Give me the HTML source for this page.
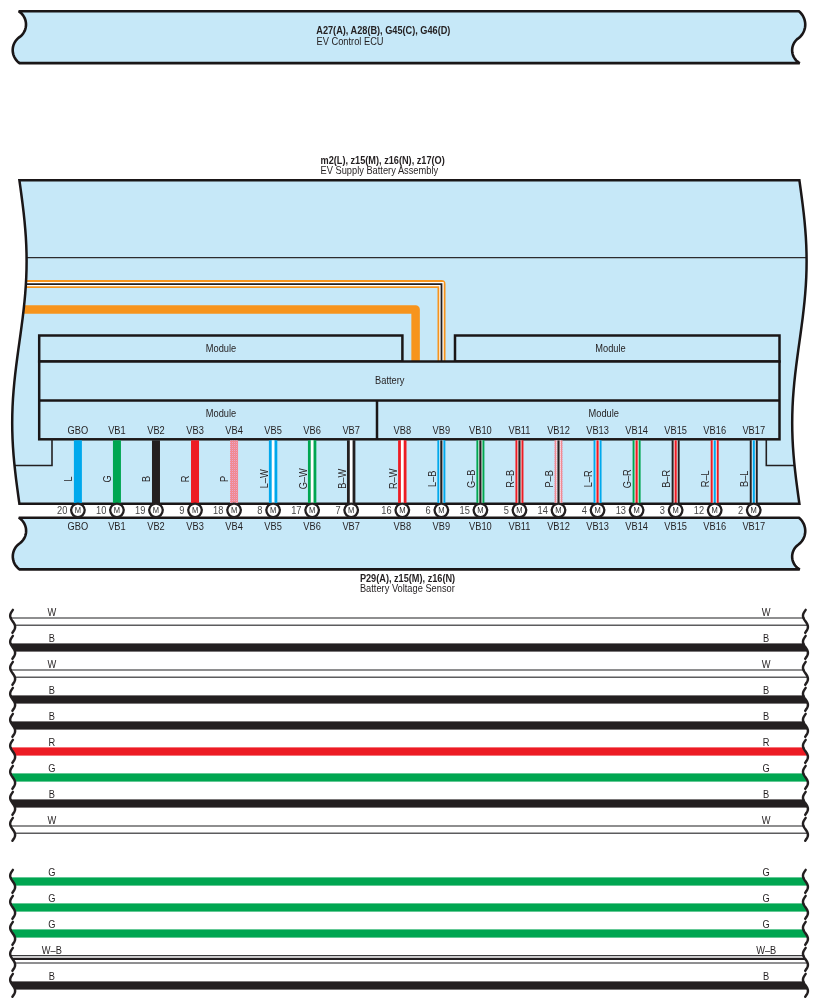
<!DOCTYPE html>
<html><head><meta charset="utf-8"><style>html,body{margin:0;padding:0;background:#fff;width:818px;height:1008px;overflow:hidden}</style></head>
<body>
<svg width="818" height="1008" viewBox="0 0 818 1008" style="display:block;will-change:transform">
<defs><pattern id="pk" width="2" height="2" patternUnits="userSpaceOnUse"><rect width="2" height="2" fill="#F2878D"/><rect width="1" height="1" fill="#E9A4CC"/><rect x="1" y="1" width="1" height="1" fill="#F08E98"/></pattern></defs>
<rect width="818" height="1008" fill="#FFFFFF"/>
<path d="M18.70,11.30 L798.90,11.30 L800.05,12.31 L801.10,13.43 L802.04,14.63 L802.88,15.91 L803.59,17.26 L804.19,18.67 L804.65,20.13 L804.99,21.62 L805.19,23.13 L805.25,24.66 L805.18,26.19 L804.97,27.71 L804.62,29.20 L804.14,30.65 L803.54,32.05 L802.81,33.40 L801.97,34.67 L801.01,35.87 L799.95,36.97 L798.80,37.98 L797.58,38.87 L796.46,39.87 L795.45,40.99 L794.55,42.21 L793.79,43.51 L793.17,44.88 L792.69,46.31 L792.36,47.79 L792.18,49.28 L792.15,50.79 L792.29,52.30 L792.57,53.78 L793.01,55.22 L793.59,56.61 L794.31,57.94 L795.16,59.18 L796.14,60.33 L797.23,61.38 L798.42,62.30 L799.70,63.10 L19.50,63.10 L18.26,62.15 L17.13,61.08 L16.10,59.90 L15.19,58.63 L14.42,57.27 L13.78,55.84 L13.29,54.36 L12.94,52.84 L12.74,51.29 L12.70,49.73 L12.81,48.17 L13.08,46.63 L13.49,45.13 L14.06,43.67 L14.76,42.27 L15.60,40.96 L16.56,39.73 L17.64,38.60 L18.82,37.58 L20.10,36.68 L21.22,35.71 L22.25,34.63 L23.16,33.45 L23.96,32.20 L24.64,30.87 L25.18,29.49 L25.60,28.06 L25.87,26.60 L26.00,25.12 L25.99,23.63 L25.84,22.15 L25.54,20.69 L25.11,19.27 L24.55,17.89 L23.85,16.57 L23.03,15.33 L22.10,14.17 L21.06,13.11 L19.92,12.15 L18.70,11.30 Z" fill="#C6E8F8" stroke="#1a1617" stroke-width="2.6" stroke-linejoin="miter" stroke-miterlimit="1.6"/>
<text font-family="Liberation Sans, sans-serif" font-size="10.2" font-weight="bold" text-anchor="start" fill="#231F20" transform="translate(316.30,34.30) scale(0.9,1)">A27(A), A28(B), G45(C), G46(D)</text>
<text font-family="Liberation Sans, sans-serif" font-size="10.2" font-weight="normal" text-anchor="start" fill="#231F20" transform="translate(316.50,44.50) scale(0.91,1)">EV Control ECU</text>
<text font-family="Liberation Sans, sans-serif" font-size="10.2" font-weight="bold" text-anchor="start" fill="#231F20" transform="translate(320.50,164.00) scale(0.9,1)">m2(L), z15(M), z16(N), z17(O)</text>
<text font-family="Liberation Sans, sans-serif" font-size="10.2" font-weight="normal" text-anchor="start" fill="#231F20" transform="translate(320.50,174.30) scale(0.91,1)">EV Supply Battery Assembly</text>
<clipPath id="bigclip"><path d="M19.40,180.30 L799.40,180.30 L800.53,188.39 L801.62,196.48 L802.67,204.56 L803.63,212.65 L804.49,220.74 L805.22,228.83 L805.82,236.91 L806.25,245.00 L806.51,253.09 L806.60,261.18 L806.51,269.26 L806.25,277.35 L805.82,285.44 L805.22,293.52 L804.49,301.61 L803.63,309.70 L802.67,317.79 L801.62,325.88 L800.53,333.96 L799.40,342.05 L798.27,350.14 L797.18,358.23 L796.13,366.31 L795.17,374.40 L794.31,382.49 L793.58,390.58 L792.98,398.66 L792.55,406.75 L792.29,414.84 L792.20,422.93 L792.29,431.01 L792.55,439.10 L792.98,447.19 L793.58,455.27 L794.31,463.36 L795.17,471.45 L796.13,479.54 L797.18,487.62 L798.27,495.71 L799.40,503.80 L19.40,503.80 L18.27,495.71 L17.18,487.62 L16.13,479.54 L15.17,471.45 L14.31,463.36 L13.58,455.27 L12.98,447.19 L12.55,439.10 L12.29,431.01 L12.20,422.93 L12.29,414.84 L12.55,406.75 L12.98,398.66 L13.58,390.58 L14.31,382.49 L15.17,374.40 L16.13,366.31 L17.18,358.23 L18.27,350.14 L19.40,342.05 L20.53,333.96 L21.62,325.88 L22.67,317.79 L23.63,309.70 L24.49,301.61 L25.22,293.52 L25.82,285.44 L26.25,277.35 L26.51,269.26 L26.60,261.18 L26.51,253.09 L26.25,245.00 L25.82,236.91 L25.22,228.83 L24.49,220.74 L23.63,212.65 L22.67,204.56 L21.62,196.48 L20.53,188.39 L19.40,180.30 Z"/></clipPath>
<path d="M19.40,180.30 L799.40,180.30 L800.53,188.39 L801.62,196.48 L802.67,204.56 L803.63,212.65 L804.49,220.74 L805.22,228.83 L805.82,236.91 L806.25,245.00 L806.51,253.09 L806.60,261.18 L806.51,269.26 L806.25,277.35 L805.82,285.44 L805.22,293.52 L804.49,301.61 L803.63,309.70 L802.67,317.79 L801.62,325.88 L800.53,333.96 L799.40,342.05 L798.27,350.14 L797.18,358.23 L796.13,366.31 L795.17,374.40 L794.31,382.49 L793.58,390.58 L792.98,398.66 L792.55,406.75 L792.29,414.84 L792.20,422.93 L792.29,431.01 L792.55,439.10 L792.98,447.19 L793.58,455.27 L794.31,463.36 L795.17,471.45 L796.13,479.54 L797.18,487.62 L798.27,495.71 L799.40,503.80 L19.40,503.80 L18.27,495.71 L17.18,487.62 L16.13,479.54 L15.17,471.45 L14.31,463.36 L13.58,455.27 L12.98,447.19 L12.55,439.10 L12.29,431.01 L12.20,422.93 L12.29,414.84 L12.55,406.75 L12.98,398.66 L13.58,390.58 L14.31,382.49 L15.17,374.40 L16.13,366.31 L17.18,358.23 L18.27,350.14 L19.40,342.05 L20.53,333.96 L21.62,325.88 L22.67,317.79 L23.63,309.70 L24.49,301.61 L25.22,293.52 L25.82,285.44 L26.25,277.35 L26.51,269.26 L26.60,261.18 L26.51,253.09 L26.25,245.00 L25.82,236.91 L25.22,228.83 L24.49,220.74 L23.63,212.65 L22.67,204.56 L21.62,196.48 L20.53,188.39 L19.40,180.30 Z" fill="#C6E8F8"/>
<g clip-path="url(#bigclip)">
<line x1="5" y1="257.6" x2="815" y2="257.6" stroke="#2b2b2e" stroke-width="1.4"/>
<path d="M5,284.1 L441.5,284.1 L441.5,361" fill="none" stroke="#F7941D" stroke-width="8" stroke-linejoin="round"/>
<path d="M5,284.1 L441.5,284.1 L441.5,361" fill="none" stroke="#FFFFFF" stroke-width="4.4" stroke-linejoin="miter"/>
<path d="M5,284.1 L441.5,284.1 L441.5,361" fill="none" stroke="#231F20" stroke-width="1.8" stroke-linejoin="miter"/>
<path d="M5,309.6 L415.6,309.6 L415.6,361" fill="none" stroke="#F7941D" stroke-width="8.5" stroke-linejoin="round"/>
<rect x="39.2" y="335.5" width="363.2" height="26" fill="#C6E8F8" stroke="#1a1617" stroke-width="2.5"/>
<rect x="455" y="335.5" width="324.5" height="26" fill="#C6E8F8" stroke="#1a1617" stroke-width="2.5"/>
<rect x="39.2" y="361.5" width="740.3" height="77.8" fill="#C6E8F8" stroke="#1a1617" stroke-width="2.5"/>
<line x1="39.2" y1="400.5" x2="779.5" y2="400.5" stroke="#1a1617" stroke-width="2.5"/>
<line x1="377" y1="400.5" x2="377" y2="439.3" stroke="#1a1617" stroke-width="2.5"/>
<path d="M52,439.3 L52,465.5 L5,465.5" fill="none" stroke="#231F20" stroke-width="1.6"/>
<path d="M766.3,439.3 L766.3,465.5 L815,465.5" fill="none" stroke="#231F20" stroke-width="1.6"/>
<text font-family="Liberation Sans, sans-serif" font-size="10.2" font-weight="normal" text-anchor="middle" fill="#231F20" transform="translate(221.00,352.30) scale(0.91,1)">Module</text>
<text font-family="Liberation Sans, sans-serif" font-size="10.2" font-weight="normal" text-anchor="middle" fill="#231F20" transform="translate(610.50,352.10) scale(0.91,1)">Module</text>
<text font-family="Liberation Sans, sans-serif" font-size="10.2" font-weight="normal" text-anchor="middle" fill="#231F20" transform="translate(389.80,384.20) scale(0.91,1)">Battery</text>
<text font-family="Liberation Sans, sans-serif" font-size="10.2" font-weight="normal" text-anchor="middle" fill="#231F20" transform="translate(221.00,416.80) scale(0.91,1)">Module</text>
<text font-family="Liberation Sans, sans-serif" font-size="10.2" font-weight="normal" text-anchor="middle" fill="#231F20" transform="translate(603.70,416.80) scale(0.91,1)">Module</text>
</g>
<path d="M19.40,180.30 L799.40,180.30 L800.53,188.39 L801.62,196.48 L802.67,204.56 L803.63,212.65 L804.49,220.74 L805.22,228.83 L805.82,236.91 L806.25,245.00 L806.51,253.09 L806.60,261.18 L806.51,269.26 L806.25,277.35 L805.82,285.44 L805.22,293.52 L804.49,301.61 L803.63,309.70 L802.67,317.79 L801.62,325.88 L800.53,333.96 L799.40,342.05 L798.27,350.14 L797.18,358.23 L796.13,366.31 L795.17,374.40 L794.31,382.49 L793.58,390.58 L792.98,398.66 L792.55,406.75 L792.29,414.84 L792.20,422.93 L792.29,431.01 L792.55,439.10 L792.98,447.19 L793.58,455.27 L794.31,463.36 L795.17,471.45 L796.13,479.54 L797.18,487.62 L798.27,495.71 L799.40,503.80 L19.40,503.80 L18.27,495.71 L17.18,487.62 L16.13,479.54 L15.17,471.45 L14.31,463.36 L13.58,455.27 L12.98,447.19 L12.55,439.10 L12.29,431.01 L12.20,422.93 L12.29,414.84 L12.55,406.75 L12.98,398.66 L13.58,390.58 L14.31,382.49 L15.17,374.40 L16.13,366.31 L17.18,358.23 L18.27,350.14 L19.40,342.05 L20.53,333.96 L21.62,325.88 L22.67,317.79 L23.63,309.70 L24.49,301.61 L25.22,293.52 L25.82,285.44 L26.25,277.35 L26.51,269.26 L26.60,261.18 L26.51,253.09 L26.25,245.00 L25.82,236.91 L25.22,228.83 L24.49,220.74 L23.63,212.65 L22.67,204.56 L21.62,196.48 L20.53,188.39 L19.40,180.30 Z" fill="none" stroke="#1a1617" stroke-width="2.5"/>
<rect x="73.90" y="440.3" width="8" height="62.69999999999999" fill="#00A8EC"/>
<text font-family="Liberation Sans, sans-serif" font-size="10.2" font-weight="normal" text-anchor="middle" fill="#231F20" transform="translate(72.30,478.80) rotate(-90) scale(0.91,1)">L</text>
<rect x="112.94" y="440.3" width="8" height="62.69999999999999" fill="#00A651"/>
<text font-family="Liberation Sans, sans-serif" font-size="10.2" font-weight="normal" text-anchor="middle" fill="#231F20" transform="translate(111.34,478.80) rotate(-90) scale(0.91,1)">G</text>
<rect x="151.98" y="440.3" width="8" height="62.69999999999999" fill="#231F20"/>
<text font-family="Liberation Sans, sans-serif" font-size="10.2" font-weight="normal" text-anchor="middle" fill="#231F20" transform="translate(150.38,478.80) rotate(-90) scale(0.91,1)">B</text>
<rect x="191.02" y="440.3" width="8" height="62.69999999999999" fill="#ED1C24"/>
<text font-family="Liberation Sans, sans-serif" font-size="10.2" font-weight="normal" text-anchor="middle" fill="#231F20" transform="translate(189.42,478.80) rotate(-90) scale(0.91,1)">R</text>
<rect x="230.06" y="440.3" width="8" height="62.69999999999999" fill="url(#pk)"/>
<text font-family="Liberation Sans, sans-serif" font-size="10.2" font-weight="normal" text-anchor="middle" fill="#231F20" transform="translate(228.46,478.80) rotate(-90) scale(0.91,1)">P</text>
<rect x="268.90" y="440.3" width="8.4" height="62.69999999999999" fill="#00A8EC"/>
<rect x="271.70" y="440.3" width="2.8" height="62.69999999999999" fill="#FFFFFF"/>
<text font-family="Liberation Sans, sans-serif" font-size="10.2" font-weight="normal" text-anchor="middle" fill="#231F20" transform="translate(267.50,478.80) rotate(-90) scale(0.91,1)">L–W</text>
<rect x="307.94" y="440.3" width="8.4" height="62.69999999999999" fill="#00A651"/>
<rect x="310.74" y="440.3" width="2.8" height="62.69999999999999" fill="#FFFFFF"/>
<text font-family="Liberation Sans, sans-serif" font-size="10.2" font-weight="normal" text-anchor="middle" fill="#231F20" transform="translate(306.54,478.80) rotate(-90) scale(0.91,1)">G–W</text>
<rect x="346.98" y="440.3" width="8.4" height="62.69999999999999" fill="#231F20"/>
<rect x="349.78" y="440.3" width="2.8" height="62.69999999999999" fill="#FFFFFF"/>
<text font-family="Liberation Sans, sans-serif" font-size="10.2" font-weight="normal" text-anchor="middle" fill="#231F20" transform="translate(345.58,478.80) rotate(-90) scale(0.91,1)">B–W</text>
<rect x="398.10" y="440.3" width="8.4" height="62.69999999999999" fill="#ED1C24"/>
<rect x="400.90" y="440.3" width="2.8" height="62.69999999999999" fill="#FFFFFF"/>
<text font-family="Liberation Sans, sans-serif" font-size="10.2" font-weight="normal" text-anchor="middle" fill="#231F20" transform="translate(396.70,478.80) rotate(-90) scale(0.91,1)">R–W</text>
<rect x="437.35" y="440.3" width="8" height="62.69999999999999" fill="#00A8EC"/>
<rect x="439.35" y="440.3" width="4" height="62.69999999999999" fill="#FFFFFF"/>
<rect x="440.25" y="440.3" width="2.2" height="62.69999999999999" fill="#231F20"/>
<text font-family="Liberation Sans, sans-serif" font-size="10.2" font-weight="normal" text-anchor="middle" fill="#231F20" transform="translate(435.75,478.80) rotate(-90) scale(0.91,1)">L–B</text>
<rect x="476.40" y="440.3" width="8" height="62.69999999999999" fill="#00A651"/>
<rect x="478.40" y="440.3" width="4" height="62.69999999999999" fill="#FFFFFF"/>
<rect x="479.30" y="440.3" width="2.2" height="62.69999999999999" fill="#231F20"/>
<text font-family="Liberation Sans, sans-serif" font-size="10.2" font-weight="normal" text-anchor="middle" fill="#231F20" transform="translate(474.80,478.80) rotate(-90) scale(0.91,1)">G–B</text>
<rect x="515.45" y="440.3" width="8" height="62.69999999999999" fill="#ED1C24"/>
<rect x="517.45" y="440.3" width="4" height="62.69999999999999" fill="#FFFFFF"/>
<rect x="518.35" y="440.3" width="2.2" height="62.69999999999999" fill="#231F20"/>
<text font-family="Liberation Sans, sans-serif" font-size="10.2" font-weight="normal" text-anchor="middle" fill="#231F20" transform="translate(513.85,478.80) rotate(-90) scale(0.91,1)">R–B</text>
<rect x="554.50" y="440.3" width="8" height="62.69999999999999" fill="url(#pk)"/>
<rect x="556.50" y="440.3" width="4" height="62.69999999999999" fill="#FFFFFF"/>
<rect x="557.40" y="440.3" width="2.2" height="62.69999999999999" fill="#231F20"/>
<text font-family="Liberation Sans, sans-serif" font-size="10.2" font-weight="normal" text-anchor="middle" fill="#231F20" transform="translate(552.90,478.80) rotate(-90) scale(0.91,1)">P–B</text>
<rect x="593.55" y="440.3" width="8" height="62.69999999999999" fill="#00A8EC"/>
<rect x="595.55" y="440.3" width="4" height="62.69999999999999" fill="#FFFFFF"/>
<rect x="596.45" y="440.3" width="2.2" height="62.69999999999999" fill="#ED1C24"/>
<text font-family="Liberation Sans, sans-serif" font-size="10.2" font-weight="normal" text-anchor="middle" fill="#231F20" transform="translate(591.95,478.80) rotate(-90) scale(0.91,1)">L–R</text>
<rect x="632.60" y="440.3" width="8" height="62.69999999999999" fill="#00A651"/>
<rect x="634.60" y="440.3" width="4" height="62.69999999999999" fill="#FFFFFF"/>
<rect x="635.50" y="440.3" width="2.2" height="62.69999999999999" fill="#ED1C24"/>
<text font-family="Liberation Sans, sans-serif" font-size="10.2" font-weight="normal" text-anchor="middle" fill="#231F20" transform="translate(631.00,478.80) rotate(-90) scale(0.91,1)">G–R</text>
<rect x="671.65" y="440.3" width="8" height="62.69999999999999" fill="#231F20"/>
<rect x="673.65" y="440.3" width="4" height="62.69999999999999" fill="#FFFFFF"/>
<rect x="674.55" y="440.3" width="2.2" height="62.69999999999999" fill="#ED1C24"/>
<text font-family="Liberation Sans, sans-serif" font-size="10.2" font-weight="normal" text-anchor="middle" fill="#231F20" transform="translate(670.05,478.80) rotate(-90) scale(0.91,1)">B–R</text>
<rect x="710.70" y="440.3" width="8" height="62.69999999999999" fill="#ED1C24"/>
<rect x="712.70" y="440.3" width="4" height="62.69999999999999" fill="#FFFFFF"/>
<rect x="713.60" y="440.3" width="2.2" height="62.69999999999999" fill="#00A8EC"/>
<text font-family="Liberation Sans, sans-serif" font-size="10.2" font-weight="normal" text-anchor="middle" fill="#231F20" transform="translate(709.10,478.80) rotate(-90) scale(0.91,1)">R–L</text>
<rect x="749.75" y="440.3" width="8" height="62.69999999999999" fill="#231F20"/>
<rect x="751.75" y="440.3" width="4" height="62.69999999999999" fill="#FFFFFF"/>
<rect x="752.65" y="440.3" width="2.2" height="62.69999999999999" fill="#00A8EC"/>
<text font-family="Liberation Sans, sans-serif" font-size="10.2" font-weight="normal" text-anchor="middle" fill="#231F20" transform="translate(748.15,478.80) rotate(-90) scale(0.91,1)">B–L</text>
<text font-family="Liberation Sans, sans-serif" font-size="10.2" font-weight="normal" text-anchor="middle" fill="#231F20" transform="translate(77.90,434.00) scale(0.91,1)">GBO</text>
<text font-family="Liberation Sans, sans-serif" font-size="10.2" font-weight="normal" text-anchor="middle" fill="#231F20" transform="translate(116.94,434.00) scale(0.91,1)">VB1</text>
<text font-family="Liberation Sans, sans-serif" font-size="10.2" font-weight="normal" text-anchor="middle" fill="#231F20" transform="translate(155.98,434.00) scale(0.91,1)">VB2</text>
<text font-family="Liberation Sans, sans-serif" font-size="10.2" font-weight="normal" text-anchor="middle" fill="#231F20" transform="translate(195.02,434.00) scale(0.91,1)">VB3</text>
<text font-family="Liberation Sans, sans-serif" font-size="10.2" font-weight="normal" text-anchor="middle" fill="#231F20" transform="translate(234.06,434.00) scale(0.91,1)">VB4</text>
<text font-family="Liberation Sans, sans-serif" font-size="10.2" font-weight="normal" text-anchor="middle" fill="#231F20" transform="translate(273.10,434.00) scale(0.91,1)">VB5</text>
<text font-family="Liberation Sans, sans-serif" font-size="10.2" font-weight="normal" text-anchor="middle" fill="#231F20" transform="translate(312.14,434.00) scale(0.91,1)">VB6</text>
<text font-family="Liberation Sans, sans-serif" font-size="10.2" font-weight="normal" text-anchor="middle" fill="#231F20" transform="translate(351.18,434.00) scale(0.91,1)">VB7</text>
<text font-family="Liberation Sans, sans-serif" font-size="10.2" font-weight="normal" text-anchor="middle" fill="#231F20" transform="translate(402.30,434.00) scale(0.91,1)">VB8</text>
<text font-family="Liberation Sans, sans-serif" font-size="10.2" font-weight="normal" text-anchor="middle" fill="#231F20" transform="translate(441.35,434.00) scale(0.91,1)">VB9</text>
<text font-family="Liberation Sans, sans-serif" font-size="10.2" font-weight="normal" text-anchor="middle" fill="#231F20" transform="translate(480.40,434.00) scale(0.91,1)">VB10</text>
<text font-family="Liberation Sans, sans-serif" font-size="10.2" font-weight="normal" text-anchor="middle" fill="#231F20" transform="translate(519.45,434.00) scale(0.91,1)">VB11</text>
<text font-family="Liberation Sans, sans-serif" font-size="10.2" font-weight="normal" text-anchor="middle" fill="#231F20" transform="translate(558.50,434.00) scale(0.91,1)">VB12</text>
<text font-family="Liberation Sans, sans-serif" font-size="10.2" font-weight="normal" text-anchor="middle" fill="#231F20" transform="translate(597.55,434.00) scale(0.91,1)">VB13</text>
<text font-family="Liberation Sans, sans-serif" font-size="10.2" font-weight="normal" text-anchor="middle" fill="#231F20" transform="translate(636.60,434.00) scale(0.91,1)">VB14</text>
<text font-family="Liberation Sans, sans-serif" font-size="10.2" font-weight="normal" text-anchor="middle" fill="#231F20" transform="translate(675.65,434.00) scale(0.91,1)">VB15</text>
<text font-family="Liberation Sans, sans-serif" font-size="10.2" font-weight="normal" text-anchor="middle" fill="#231F20" transform="translate(714.70,434.00) scale(0.91,1)">VB16</text>
<text font-family="Liberation Sans, sans-serif" font-size="10.2" font-weight="normal" text-anchor="middle" fill="#231F20" transform="translate(753.75,434.00) scale(0.91,1)">VB17</text>
<path d="M18.80,517.70 L798.90,517.70 L800.05,518.71 L801.10,519.82 L802.04,521.02 L802.88,522.30 L803.59,523.64 L804.19,525.05 L804.65,526.51 L804.99,528.00 L805.19,529.51 L805.25,531.04 L805.18,532.56 L804.97,534.07 L804.62,535.56 L804.14,537.01 L803.54,538.42 L802.81,539.76 L801.97,541.03 L801.01,542.22 L799.95,543.32 L798.80,544.33 L797.58,545.21 L796.46,546.22 L795.45,547.33 L794.56,548.55 L793.79,549.85 L793.17,551.22 L792.69,552.65 L792.36,554.12 L792.18,555.61 L792.15,557.12 L792.29,558.62 L792.57,560.10 L793.01,561.54 L793.59,562.93 L794.31,564.25 L795.16,565.49 L796.14,566.64 L797.23,567.68 L798.42,568.60 L799.70,569.40 L19.60,569.40 L18.36,568.45 L17.23,567.38 L16.20,566.21 L15.29,564.94 L14.52,563.58 L13.88,562.16 L13.39,560.68 L13.04,559.16 L12.84,557.61 L12.80,556.05 L12.91,554.50 L13.18,552.96 L13.60,551.46 L14.16,550.00 L14.86,548.61 L15.70,547.30 L16.66,546.07 L17.74,544.94 L18.92,543.93 L20.20,543.03 L21.32,542.06 L22.35,540.98 L23.26,539.81 L24.06,538.56 L24.74,537.24 L25.28,535.86 L25.70,534.43 L25.97,532.97 L26.10,531.49 L26.09,530.00 L25.94,528.52 L25.64,527.07 L25.21,525.65 L24.64,524.27 L23.95,522.96 L23.13,521.72 L22.20,520.56 L21.16,519.50 L20.02,518.54 L18.80,517.70 Z" fill="#C6E8F8" stroke="#1a1617" stroke-width="2.6" stroke-miterlimit="1.6"/>
<circle cx="77.90" cy="510.3" r="6.75" fill="#FFFFFF" stroke="#231F20" stroke-width="2.3"/>
<text font-family="Liberation Sans, sans-serif" font-size="9.0" font-weight="normal" text-anchor="middle" fill="#2a2a2a" transform="translate(77.90,513.30) scale(0.84,1)">M</text>
<text font-family="Liberation Sans, sans-serif" font-size="10.2" font-weight="normal" text-anchor="end" fill="#444" transform="translate(67.30,514.40) scale(0.91,1)">20</text>
<text font-family="Liberation Sans, sans-serif" font-size="10.2" font-weight="normal" text-anchor="middle" fill="#231F20" transform="translate(77.90,529.90) scale(0.91,1)">GBO</text>
<circle cx="116.94" cy="510.3" r="6.75" fill="#FFFFFF" stroke="#231F20" stroke-width="2.3"/>
<text font-family="Liberation Sans, sans-serif" font-size="9.0" font-weight="normal" text-anchor="middle" fill="#2a2a2a" transform="translate(116.94,513.30) scale(0.84,1)">M</text>
<text font-family="Liberation Sans, sans-serif" font-size="10.2" font-weight="normal" text-anchor="end" fill="#444" transform="translate(106.34,514.40) scale(0.91,1)">10</text>
<text font-family="Liberation Sans, sans-serif" font-size="10.2" font-weight="normal" text-anchor="middle" fill="#231F20" transform="translate(116.94,529.90) scale(0.91,1)">VB1</text>
<circle cx="155.98" cy="510.3" r="6.75" fill="#FFFFFF" stroke="#231F20" stroke-width="2.3"/>
<text font-family="Liberation Sans, sans-serif" font-size="9.0" font-weight="normal" text-anchor="middle" fill="#2a2a2a" transform="translate(155.98,513.30) scale(0.84,1)">M</text>
<text font-family="Liberation Sans, sans-serif" font-size="10.2" font-weight="normal" text-anchor="end" fill="#444" transform="translate(145.38,514.40) scale(0.91,1)">19</text>
<text font-family="Liberation Sans, sans-serif" font-size="10.2" font-weight="normal" text-anchor="middle" fill="#231F20" transform="translate(155.98,529.90) scale(0.91,1)">VB2</text>
<circle cx="195.02" cy="510.3" r="6.75" fill="#FFFFFF" stroke="#231F20" stroke-width="2.3"/>
<text font-family="Liberation Sans, sans-serif" font-size="9.0" font-weight="normal" text-anchor="middle" fill="#2a2a2a" transform="translate(195.02,513.30) scale(0.84,1)">M</text>
<text font-family="Liberation Sans, sans-serif" font-size="10.2" font-weight="normal" text-anchor="end" fill="#444" transform="translate(184.42,514.40) scale(0.91,1)">9</text>
<text font-family="Liberation Sans, sans-serif" font-size="10.2" font-weight="normal" text-anchor="middle" fill="#231F20" transform="translate(195.02,529.90) scale(0.91,1)">VB3</text>
<circle cx="234.06" cy="510.3" r="6.75" fill="#FFFFFF" stroke="#231F20" stroke-width="2.3"/>
<text font-family="Liberation Sans, sans-serif" font-size="9.0" font-weight="normal" text-anchor="middle" fill="#2a2a2a" transform="translate(234.06,513.30) scale(0.84,1)">M</text>
<text font-family="Liberation Sans, sans-serif" font-size="10.2" font-weight="normal" text-anchor="end" fill="#444" transform="translate(223.46,514.40) scale(0.91,1)">18</text>
<text font-family="Liberation Sans, sans-serif" font-size="10.2" font-weight="normal" text-anchor="middle" fill="#231F20" transform="translate(234.06,529.90) scale(0.91,1)">VB4</text>
<circle cx="273.10" cy="510.3" r="6.75" fill="#FFFFFF" stroke="#231F20" stroke-width="2.3"/>
<text font-family="Liberation Sans, sans-serif" font-size="9.0" font-weight="normal" text-anchor="middle" fill="#2a2a2a" transform="translate(273.10,513.30) scale(0.84,1)">M</text>
<text font-family="Liberation Sans, sans-serif" font-size="10.2" font-weight="normal" text-anchor="end" fill="#444" transform="translate(262.50,514.40) scale(0.91,1)">8</text>
<text font-family="Liberation Sans, sans-serif" font-size="10.2" font-weight="normal" text-anchor="middle" fill="#231F20" transform="translate(273.10,529.90) scale(0.91,1)">VB5</text>
<circle cx="312.14" cy="510.3" r="6.75" fill="#FFFFFF" stroke="#231F20" stroke-width="2.3"/>
<text font-family="Liberation Sans, sans-serif" font-size="9.0" font-weight="normal" text-anchor="middle" fill="#2a2a2a" transform="translate(312.14,513.30) scale(0.84,1)">M</text>
<text font-family="Liberation Sans, sans-serif" font-size="10.2" font-weight="normal" text-anchor="end" fill="#444" transform="translate(301.54,514.40) scale(0.91,1)">17</text>
<text font-family="Liberation Sans, sans-serif" font-size="10.2" font-weight="normal" text-anchor="middle" fill="#231F20" transform="translate(312.14,529.90) scale(0.91,1)">VB6</text>
<circle cx="351.18" cy="510.3" r="6.75" fill="#FFFFFF" stroke="#231F20" stroke-width="2.3"/>
<text font-family="Liberation Sans, sans-serif" font-size="9.0" font-weight="normal" text-anchor="middle" fill="#2a2a2a" transform="translate(351.18,513.30) scale(0.84,1)">M</text>
<text font-family="Liberation Sans, sans-serif" font-size="10.2" font-weight="normal" text-anchor="end" fill="#444" transform="translate(340.58,514.40) scale(0.91,1)">7</text>
<text font-family="Liberation Sans, sans-serif" font-size="10.2" font-weight="normal" text-anchor="middle" fill="#231F20" transform="translate(351.18,529.90) scale(0.91,1)">VB7</text>
<circle cx="402.30" cy="510.3" r="6.75" fill="#FFFFFF" stroke="#231F20" stroke-width="2.3"/>
<text font-family="Liberation Sans, sans-serif" font-size="9.0" font-weight="normal" text-anchor="middle" fill="#2a2a2a" transform="translate(402.30,513.30) scale(0.84,1)">M</text>
<text font-family="Liberation Sans, sans-serif" font-size="10.2" font-weight="normal" text-anchor="end" fill="#444" transform="translate(391.70,514.40) scale(0.91,1)">16</text>
<text font-family="Liberation Sans, sans-serif" font-size="10.2" font-weight="normal" text-anchor="middle" fill="#231F20" transform="translate(402.30,529.90) scale(0.91,1)">VB8</text>
<circle cx="441.35" cy="510.3" r="6.75" fill="#FFFFFF" stroke="#231F20" stroke-width="2.3"/>
<text font-family="Liberation Sans, sans-serif" font-size="9.0" font-weight="normal" text-anchor="middle" fill="#2a2a2a" transform="translate(441.35,513.30) scale(0.84,1)">M</text>
<text font-family="Liberation Sans, sans-serif" font-size="10.2" font-weight="normal" text-anchor="end" fill="#444" transform="translate(430.75,514.40) scale(0.91,1)">6</text>
<text font-family="Liberation Sans, sans-serif" font-size="10.2" font-weight="normal" text-anchor="middle" fill="#231F20" transform="translate(441.35,529.90) scale(0.91,1)">VB9</text>
<circle cx="480.40" cy="510.3" r="6.75" fill="#FFFFFF" stroke="#231F20" stroke-width="2.3"/>
<text font-family="Liberation Sans, sans-serif" font-size="9.0" font-weight="normal" text-anchor="middle" fill="#2a2a2a" transform="translate(480.40,513.30) scale(0.84,1)">M</text>
<text font-family="Liberation Sans, sans-serif" font-size="10.2" font-weight="normal" text-anchor="end" fill="#444" transform="translate(469.80,514.40) scale(0.91,1)">15</text>
<text font-family="Liberation Sans, sans-serif" font-size="10.2" font-weight="normal" text-anchor="middle" fill="#231F20" transform="translate(480.40,529.90) scale(0.91,1)">VB10</text>
<circle cx="519.45" cy="510.3" r="6.75" fill="#FFFFFF" stroke="#231F20" stroke-width="2.3"/>
<text font-family="Liberation Sans, sans-serif" font-size="9.0" font-weight="normal" text-anchor="middle" fill="#2a2a2a" transform="translate(519.45,513.30) scale(0.84,1)">M</text>
<text font-family="Liberation Sans, sans-serif" font-size="10.2" font-weight="normal" text-anchor="end" fill="#444" transform="translate(508.85,514.40) scale(0.91,1)">5</text>
<text font-family="Liberation Sans, sans-serif" font-size="10.2" font-weight="normal" text-anchor="middle" fill="#231F20" transform="translate(519.45,529.90) scale(0.91,1)">VB11</text>
<circle cx="558.50" cy="510.3" r="6.75" fill="#FFFFFF" stroke="#231F20" stroke-width="2.3"/>
<text font-family="Liberation Sans, sans-serif" font-size="9.0" font-weight="normal" text-anchor="middle" fill="#2a2a2a" transform="translate(558.50,513.30) scale(0.84,1)">M</text>
<text font-family="Liberation Sans, sans-serif" font-size="10.2" font-weight="normal" text-anchor="end" fill="#444" transform="translate(547.90,514.40) scale(0.91,1)">14</text>
<text font-family="Liberation Sans, sans-serif" font-size="10.2" font-weight="normal" text-anchor="middle" fill="#231F20" transform="translate(558.50,529.90) scale(0.91,1)">VB12</text>
<circle cx="597.55" cy="510.3" r="6.75" fill="#FFFFFF" stroke="#231F20" stroke-width="2.3"/>
<text font-family="Liberation Sans, sans-serif" font-size="9.0" font-weight="normal" text-anchor="middle" fill="#2a2a2a" transform="translate(597.55,513.30) scale(0.84,1)">M</text>
<text font-family="Liberation Sans, sans-serif" font-size="10.2" font-weight="normal" text-anchor="end" fill="#444" transform="translate(586.95,514.40) scale(0.91,1)">4</text>
<text font-family="Liberation Sans, sans-serif" font-size="10.2" font-weight="normal" text-anchor="middle" fill="#231F20" transform="translate(597.55,529.90) scale(0.91,1)">VB13</text>
<circle cx="636.60" cy="510.3" r="6.75" fill="#FFFFFF" stroke="#231F20" stroke-width="2.3"/>
<text font-family="Liberation Sans, sans-serif" font-size="9.0" font-weight="normal" text-anchor="middle" fill="#2a2a2a" transform="translate(636.60,513.30) scale(0.84,1)">M</text>
<text font-family="Liberation Sans, sans-serif" font-size="10.2" font-weight="normal" text-anchor="end" fill="#444" transform="translate(626.00,514.40) scale(0.91,1)">13</text>
<text font-family="Liberation Sans, sans-serif" font-size="10.2" font-weight="normal" text-anchor="middle" fill="#231F20" transform="translate(636.60,529.90) scale(0.91,1)">VB14</text>
<circle cx="675.65" cy="510.3" r="6.75" fill="#FFFFFF" stroke="#231F20" stroke-width="2.3"/>
<text font-family="Liberation Sans, sans-serif" font-size="9.0" font-weight="normal" text-anchor="middle" fill="#2a2a2a" transform="translate(675.65,513.30) scale(0.84,1)">M</text>
<text font-family="Liberation Sans, sans-serif" font-size="10.2" font-weight="normal" text-anchor="end" fill="#444" transform="translate(665.05,514.40) scale(0.91,1)">3</text>
<text font-family="Liberation Sans, sans-serif" font-size="10.2" font-weight="normal" text-anchor="middle" fill="#231F20" transform="translate(675.65,529.90) scale(0.91,1)">VB15</text>
<circle cx="714.70" cy="510.3" r="6.75" fill="#FFFFFF" stroke="#231F20" stroke-width="2.3"/>
<text font-family="Liberation Sans, sans-serif" font-size="9.0" font-weight="normal" text-anchor="middle" fill="#2a2a2a" transform="translate(714.70,513.30) scale(0.84,1)">M</text>
<text font-family="Liberation Sans, sans-serif" font-size="10.2" font-weight="normal" text-anchor="end" fill="#444" transform="translate(704.10,514.40) scale(0.91,1)">12</text>
<text font-family="Liberation Sans, sans-serif" font-size="10.2" font-weight="normal" text-anchor="middle" fill="#231F20" transform="translate(714.70,529.90) scale(0.91,1)">VB16</text>
<circle cx="753.75" cy="510.3" r="6.75" fill="#FFFFFF" stroke="#231F20" stroke-width="2.3"/>
<text font-family="Liberation Sans, sans-serif" font-size="9.0" font-weight="normal" text-anchor="middle" fill="#2a2a2a" transform="translate(753.75,513.30) scale(0.84,1)">M</text>
<text font-family="Liberation Sans, sans-serif" font-size="10.2" font-weight="normal" text-anchor="end" fill="#444" transform="translate(743.15,514.40) scale(0.91,1)">2</text>
<text font-family="Liberation Sans, sans-serif" font-size="10.2" font-weight="normal" text-anchor="middle" fill="#231F20" transform="translate(753.75,529.90) scale(0.91,1)">VB17</text>
<text font-family="Liberation Sans, sans-serif" font-size="10.2" font-weight="bold" text-anchor="start" fill="#231F20" transform="translate(359.90,582.00) scale(0.9,1)">P29(A), z15(M), z16(N)</text>
<text font-family="Liberation Sans, sans-serif" font-size="10.2" font-weight="normal" text-anchor="start" fill="#231F20" transform="translate(359.90,591.90) scale(0.91,1)">Battery Voltage Sensor</text>
<clipPath id="wc0"><polygon points="12.90,609.90 12.21,610.85 11.56,611.80 11.00,612.75 10.57,613.70 10.28,614.65 10.18,615.60 10.24,616.55 10.48,617.50 10.87,618.45 11.39,619.40 12.00,620.35 12.65,621.30 13.30,622.25 13.91,623.20 14.43,624.15 14.82,625.10 15.06,626.05 15.12,627.00 15.02,627.95 14.73,628.90 14.30,629.85 13.74,630.80 13.09,631.75 12.40,632.70 805.20,632.70 805.89,631.75 806.54,630.80 807.10,629.85 807.53,628.90 807.82,627.95 807.93,627.00 807.86,626.05 807.62,625.10 807.23,624.15 806.71,623.20 806.10,622.25 805.45,621.30 804.80,620.35 804.19,619.40 803.67,618.45 803.28,617.50 803.04,616.55 802.98,615.60 803.08,614.65 803.37,613.70 803.80,612.75 804.36,611.80 805.01,610.85 805.70,609.90"/></clipPath>
<g clip-path="url(#wc0)">
<line x1="5" y1="617.90" x2="813" y2="617.90" stroke="#68686a" stroke-width="1.5"/>
<line x1="5" y1="625.20" x2="813" y2="625.20" stroke="#5c5c5e" stroke-width="1.5"/>
</g>
<path d="M12.90,609.90 L12.21,610.85 L11.56,611.80 L11.00,612.75 L10.57,613.70 L10.28,614.65 L10.18,615.60 L10.24,616.55 L10.48,617.50 L10.87,618.45 L11.39,619.40 L12.00,620.35 L12.65,621.30 L13.30,622.25 L13.91,623.20 L14.43,624.15 L14.82,625.10 L15.06,626.05 L15.12,627.00 L15.02,627.95 L14.73,628.90 L14.30,629.85 L13.74,630.80 L13.09,631.75 L12.40,632.70" fill="none" stroke="#231F20" stroke-width="2.45" stroke-linecap="round"/>
<path d="M805.70,609.90 L805.01,610.85 L804.36,611.80 L803.80,612.75 L803.37,613.70 L803.08,614.65 L802.98,615.60 L803.04,616.55 L803.28,617.50 L803.67,618.45 L804.19,619.40 L804.80,620.35 L805.45,621.30 L806.10,622.25 L806.71,623.20 L807.23,624.15 L807.62,625.10 L807.86,626.05 L807.93,627.00 L807.82,627.95 L807.53,628.90 L807.10,629.85 L806.54,630.80 L805.89,631.75 L805.20,632.70" fill="none" stroke="#231F20" stroke-width="2.45" stroke-linecap="round"/>
<text font-family="Liberation Sans, sans-serif" font-size="10.2" font-weight="normal" text-anchor="middle" fill="#231F20" transform="translate(51.80,616.00) scale(0.91,1)">W</text>
<text font-family="Liberation Sans, sans-serif" font-size="10.2" font-weight="normal" text-anchor="middle" fill="#231F20" transform="translate(766.20,616.00) scale(0.91,1)">W</text>
<clipPath id="wc1"><polygon points="12.90,635.90 12.21,636.85 11.56,637.80 11.00,638.75 10.57,639.70 10.28,640.65 10.18,641.60 10.24,642.55 10.48,643.50 10.87,644.45 11.39,645.40 12.00,646.35 12.65,647.30 13.30,648.25 13.91,649.20 14.43,650.15 14.82,651.10 15.06,652.05 15.12,653.00 15.02,653.95 14.73,654.90 14.30,655.85 13.74,656.80 13.09,657.75 12.40,658.70 805.20,658.70 805.89,657.75 806.54,656.80 807.10,655.85 807.53,654.90 807.82,653.95 807.93,653.00 807.86,652.05 807.62,651.10 807.23,650.15 806.71,649.20 806.10,648.25 805.45,647.30 804.80,646.35 804.19,645.40 803.67,644.45 803.28,643.50 803.04,642.55 802.98,641.60 803.08,640.65 803.37,639.70 803.80,638.75 804.36,637.80 805.01,636.85 805.70,635.90"/></clipPath>
<g clip-path="url(#wc1)">
<rect x="5" y="643.40" width="808" height="8.2" fill="#231F20"/>
</g>
<path d="M12.90,635.90 L12.21,636.85 L11.56,637.80 L11.00,638.75 L10.57,639.70 L10.28,640.65 L10.18,641.60 L10.24,642.55 L10.48,643.50 L10.87,644.45 L11.39,645.40 L12.00,646.35 L12.65,647.30 L13.30,648.25 L13.91,649.20 L14.43,650.15 L14.82,651.10 L15.06,652.05 L15.12,653.00 L15.02,653.95 L14.73,654.90 L14.30,655.85 L13.74,656.80 L13.09,657.75 L12.40,658.70" fill="none" stroke="#231F20" stroke-width="2.45" stroke-linecap="round"/>
<path d="M805.70,635.90 L805.01,636.85 L804.36,637.80 L803.80,638.75 L803.37,639.70 L803.08,640.65 L802.98,641.60 L803.04,642.55 L803.28,643.50 L803.67,644.45 L804.19,645.40 L804.80,646.35 L805.45,647.30 L806.10,648.25 L806.71,649.20 L807.23,650.15 L807.62,651.10 L807.86,652.05 L807.93,653.00 L807.82,653.95 L807.53,654.90 L807.10,655.85 L806.54,656.80 L805.89,657.75 L805.20,658.70" fill="none" stroke="#231F20" stroke-width="2.45" stroke-linecap="round"/>
<text font-family="Liberation Sans, sans-serif" font-size="10.2" font-weight="normal" text-anchor="middle" fill="#231F20" transform="translate(51.80,642.00) scale(0.91,1)">B</text>
<text font-family="Liberation Sans, sans-serif" font-size="10.2" font-weight="normal" text-anchor="middle" fill="#231F20" transform="translate(766.20,642.00) scale(0.91,1)">B</text>
<clipPath id="wc2"><polygon points="12.90,661.90 12.21,662.85 11.56,663.80 11.00,664.75 10.57,665.70 10.28,666.65 10.18,667.60 10.24,668.55 10.48,669.50 10.87,670.45 11.39,671.40 12.00,672.35 12.65,673.30 13.30,674.25 13.91,675.20 14.43,676.15 14.82,677.10 15.06,678.05 15.12,679.00 15.02,679.95 14.73,680.90 14.30,681.85 13.74,682.80 13.09,683.75 12.40,684.70 805.20,684.70 805.89,683.75 806.54,682.80 807.10,681.85 807.53,680.90 807.82,679.95 807.93,679.00 807.86,678.05 807.62,677.10 807.23,676.15 806.71,675.20 806.10,674.25 805.45,673.30 804.80,672.35 804.19,671.40 803.67,670.45 803.28,669.50 803.04,668.55 802.98,667.60 803.08,666.65 803.37,665.70 803.80,664.75 804.36,663.80 805.01,662.85 805.70,661.90"/></clipPath>
<g clip-path="url(#wc2)">
<line x1="5" y1="669.90" x2="813" y2="669.90" stroke="#68686a" stroke-width="1.5"/>
<line x1="5" y1="677.20" x2="813" y2="677.20" stroke="#5c5c5e" stroke-width="1.5"/>
</g>
<path d="M12.90,661.90 L12.21,662.85 L11.56,663.80 L11.00,664.75 L10.57,665.70 L10.28,666.65 L10.18,667.60 L10.24,668.55 L10.48,669.50 L10.87,670.45 L11.39,671.40 L12.00,672.35 L12.65,673.30 L13.30,674.25 L13.91,675.20 L14.43,676.15 L14.82,677.10 L15.06,678.05 L15.12,679.00 L15.02,679.95 L14.73,680.90 L14.30,681.85 L13.74,682.80 L13.09,683.75 L12.40,684.70" fill="none" stroke="#231F20" stroke-width="2.45" stroke-linecap="round"/>
<path d="M805.70,661.90 L805.01,662.85 L804.36,663.80 L803.80,664.75 L803.37,665.70 L803.08,666.65 L802.98,667.60 L803.04,668.55 L803.28,669.50 L803.67,670.45 L804.19,671.40 L804.80,672.35 L805.45,673.30 L806.10,674.25 L806.71,675.20 L807.23,676.15 L807.62,677.10 L807.86,678.05 L807.93,679.00 L807.82,679.95 L807.53,680.90 L807.10,681.85 L806.54,682.80 L805.89,683.75 L805.20,684.70" fill="none" stroke="#231F20" stroke-width="2.45" stroke-linecap="round"/>
<text font-family="Liberation Sans, sans-serif" font-size="10.2" font-weight="normal" text-anchor="middle" fill="#231F20" transform="translate(51.80,668.00) scale(0.91,1)">W</text>
<text font-family="Liberation Sans, sans-serif" font-size="10.2" font-weight="normal" text-anchor="middle" fill="#231F20" transform="translate(766.20,668.00) scale(0.91,1)">W</text>
<clipPath id="wc3"><polygon points="12.90,687.90 12.21,688.85 11.56,689.80 11.00,690.75 10.57,691.70 10.28,692.65 10.18,693.60 10.24,694.55 10.48,695.50 10.87,696.45 11.39,697.40 12.00,698.35 12.65,699.30 13.30,700.25 13.91,701.20 14.43,702.15 14.82,703.10 15.06,704.05 15.12,705.00 15.02,705.95 14.73,706.90 14.30,707.85 13.74,708.80 13.09,709.75 12.40,710.70 805.20,710.70 805.89,709.75 806.54,708.80 807.10,707.85 807.53,706.90 807.82,705.95 807.93,705.00 807.86,704.05 807.62,703.10 807.23,702.15 806.71,701.20 806.10,700.25 805.45,699.30 804.80,698.35 804.19,697.40 803.67,696.45 803.28,695.50 803.04,694.55 802.98,693.60 803.08,692.65 803.37,691.70 803.80,690.75 804.36,689.80 805.01,688.85 805.70,687.90"/></clipPath>
<g clip-path="url(#wc3)">
<rect x="5" y="695.40" width="808" height="8.2" fill="#231F20"/>
</g>
<path d="M12.90,687.90 L12.21,688.85 L11.56,689.80 L11.00,690.75 L10.57,691.70 L10.28,692.65 L10.18,693.60 L10.24,694.55 L10.48,695.50 L10.87,696.45 L11.39,697.40 L12.00,698.35 L12.65,699.30 L13.30,700.25 L13.91,701.20 L14.43,702.15 L14.82,703.10 L15.06,704.05 L15.12,705.00 L15.02,705.95 L14.73,706.90 L14.30,707.85 L13.74,708.80 L13.09,709.75 L12.40,710.70" fill="none" stroke="#231F20" stroke-width="2.45" stroke-linecap="round"/>
<path d="M805.70,687.90 L805.01,688.85 L804.36,689.80 L803.80,690.75 L803.37,691.70 L803.08,692.65 L802.98,693.60 L803.04,694.55 L803.28,695.50 L803.67,696.45 L804.19,697.40 L804.80,698.35 L805.45,699.30 L806.10,700.25 L806.71,701.20 L807.23,702.15 L807.62,703.10 L807.86,704.05 L807.93,705.00 L807.82,705.95 L807.53,706.90 L807.10,707.85 L806.54,708.80 L805.89,709.75 L805.20,710.70" fill="none" stroke="#231F20" stroke-width="2.45" stroke-linecap="round"/>
<text font-family="Liberation Sans, sans-serif" font-size="10.2" font-weight="normal" text-anchor="middle" fill="#231F20" transform="translate(51.80,694.00) scale(0.91,1)">B</text>
<text font-family="Liberation Sans, sans-serif" font-size="10.2" font-weight="normal" text-anchor="middle" fill="#231F20" transform="translate(766.20,694.00) scale(0.91,1)">B</text>
<clipPath id="wc4"><polygon points="12.90,713.90 12.21,714.85 11.56,715.80 11.00,716.75 10.57,717.70 10.28,718.65 10.18,719.60 10.24,720.55 10.48,721.50 10.87,722.45 11.39,723.40 12.00,724.35 12.65,725.30 13.30,726.25 13.91,727.20 14.43,728.15 14.82,729.10 15.06,730.05 15.12,731.00 15.02,731.95 14.73,732.90 14.30,733.85 13.74,734.80 13.09,735.75 12.40,736.70 805.20,736.70 805.89,735.75 806.54,734.80 807.10,733.85 807.53,732.90 807.82,731.95 807.93,731.00 807.86,730.05 807.62,729.10 807.23,728.15 806.71,727.20 806.10,726.25 805.45,725.30 804.80,724.35 804.19,723.40 803.67,722.45 803.28,721.50 803.04,720.55 802.98,719.60 803.08,718.65 803.37,717.70 803.80,716.75 804.36,715.80 805.01,714.85 805.70,713.90"/></clipPath>
<g clip-path="url(#wc4)">
<rect x="5" y="721.40" width="808" height="8.2" fill="#231F20"/>
</g>
<path d="M12.90,713.90 L12.21,714.85 L11.56,715.80 L11.00,716.75 L10.57,717.70 L10.28,718.65 L10.18,719.60 L10.24,720.55 L10.48,721.50 L10.87,722.45 L11.39,723.40 L12.00,724.35 L12.65,725.30 L13.30,726.25 L13.91,727.20 L14.43,728.15 L14.82,729.10 L15.06,730.05 L15.12,731.00 L15.02,731.95 L14.73,732.90 L14.30,733.85 L13.74,734.80 L13.09,735.75 L12.40,736.70" fill="none" stroke="#231F20" stroke-width="2.45" stroke-linecap="round"/>
<path d="M805.70,713.90 L805.01,714.85 L804.36,715.80 L803.80,716.75 L803.37,717.70 L803.08,718.65 L802.98,719.60 L803.04,720.55 L803.28,721.50 L803.67,722.45 L804.19,723.40 L804.80,724.35 L805.45,725.30 L806.10,726.25 L806.71,727.20 L807.23,728.15 L807.62,729.10 L807.86,730.05 L807.93,731.00 L807.82,731.95 L807.53,732.90 L807.10,733.85 L806.54,734.80 L805.89,735.75 L805.20,736.70" fill="none" stroke="#231F20" stroke-width="2.45" stroke-linecap="round"/>
<text font-family="Liberation Sans, sans-serif" font-size="10.2" font-weight="normal" text-anchor="middle" fill="#231F20" transform="translate(51.80,720.00) scale(0.91,1)">B</text>
<text font-family="Liberation Sans, sans-serif" font-size="10.2" font-weight="normal" text-anchor="middle" fill="#231F20" transform="translate(766.20,720.00) scale(0.91,1)">B</text>
<clipPath id="wc5"><polygon points="12.90,739.90 12.21,740.85 11.56,741.80 11.00,742.75 10.57,743.70 10.28,744.65 10.18,745.60 10.24,746.55 10.48,747.50 10.87,748.45 11.39,749.40 12.00,750.35 12.65,751.30 13.30,752.25 13.91,753.20 14.43,754.15 14.82,755.10 15.06,756.05 15.12,757.00 15.02,757.95 14.73,758.90 14.30,759.85 13.74,760.80 13.09,761.75 12.40,762.70 805.20,762.70 805.89,761.75 806.54,760.80 807.10,759.85 807.53,758.90 807.82,757.95 807.93,757.00 807.86,756.05 807.62,755.10 807.23,754.15 806.71,753.20 806.10,752.25 805.45,751.30 804.80,750.35 804.19,749.40 803.67,748.45 803.28,747.50 803.04,746.55 802.98,745.60 803.08,744.65 803.37,743.70 803.80,742.75 804.36,741.80 805.01,740.85 805.70,739.90"/></clipPath>
<g clip-path="url(#wc5)">
<rect x="5" y="747.40" width="808" height="8.2" fill="#ED1C24"/>
</g>
<path d="M12.90,739.90 L12.21,740.85 L11.56,741.80 L11.00,742.75 L10.57,743.70 L10.28,744.65 L10.18,745.60 L10.24,746.55 L10.48,747.50 L10.87,748.45 L11.39,749.40 L12.00,750.35 L12.65,751.30 L13.30,752.25 L13.91,753.20 L14.43,754.15 L14.82,755.10 L15.06,756.05 L15.12,757.00 L15.02,757.95 L14.73,758.90 L14.30,759.85 L13.74,760.80 L13.09,761.75 L12.40,762.70" fill="none" stroke="#231F20" stroke-width="2.45" stroke-linecap="round"/>
<path d="M805.70,739.90 L805.01,740.85 L804.36,741.80 L803.80,742.75 L803.37,743.70 L803.08,744.65 L802.98,745.60 L803.04,746.55 L803.28,747.50 L803.67,748.45 L804.19,749.40 L804.80,750.35 L805.45,751.30 L806.10,752.25 L806.71,753.20 L807.23,754.15 L807.62,755.10 L807.86,756.05 L807.93,757.00 L807.82,757.95 L807.53,758.90 L807.10,759.85 L806.54,760.80 L805.89,761.75 L805.20,762.70" fill="none" stroke="#231F20" stroke-width="2.45" stroke-linecap="round"/>
<text font-family="Liberation Sans, sans-serif" font-size="10.2" font-weight="normal" text-anchor="middle" fill="#231F20" transform="translate(51.80,746.00) scale(0.91,1)">R</text>
<text font-family="Liberation Sans, sans-serif" font-size="10.2" font-weight="normal" text-anchor="middle" fill="#231F20" transform="translate(766.20,746.00) scale(0.91,1)">R</text>
<clipPath id="wc6"><polygon points="12.90,765.90 12.21,766.85 11.56,767.80 11.00,768.75 10.57,769.70 10.28,770.65 10.18,771.60 10.24,772.55 10.48,773.50 10.87,774.45 11.39,775.40 12.00,776.35 12.65,777.30 13.30,778.25 13.91,779.20 14.43,780.15 14.82,781.10 15.06,782.05 15.12,783.00 15.02,783.95 14.73,784.90 14.30,785.85 13.74,786.80 13.09,787.75 12.40,788.70 805.20,788.70 805.89,787.75 806.54,786.80 807.10,785.85 807.53,784.90 807.82,783.95 807.93,783.00 807.86,782.05 807.62,781.10 807.23,780.15 806.71,779.20 806.10,778.25 805.45,777.30 804.80,776.35 804.19,775.40 803.67,774.45 803.28,773.50 803.04,772.55 802.98,771.60 803.08,770.65 803.37,769.70 803.80,768.75 804.36,767.80 805.01,766.85 805.70,765.90"/></clipPath>
<g clip-path="url(#wc6)">
<rect x="5" y="773.40" width="808" height="8.2" fill="#00A651"/>
</g>
<path d="M12.90,765.90 L12.21,766.85 L11.56,767.80 L11.00,768.75 L10.57,769.70 L10.28,770.65 L10.18,771.60 L10.24,772.55 L10.48,773.50 L10.87,774.45 L11.39,775.40 L12.00,776.35 L12.65,777.30 L13.30,778.25 L13.91,779.20 L14.43,780.15 L14.82,781.10 L15.06,782.05 L15.12,783.00 L15.02,783.95 L14.73,784.90 L14.30,785.85 L13.74,786.80 L13.09,787.75 L12.40,788.70" fill="none" stroke="#231F20" stroke-width="2.45" stroke-linecap="round"/>
<path d="M805.70,765.90 L805.01,766.85 L804.36,767.80 L803.80,768.75 L803.37,769.70 L803.08,770.65 L802.98,771.60 L803.04,772.55 L803.28,773.50 L803.67,774.45 L804.19,775.40 L804.80,776.35 L805.45,777.30 L806.10,778.25 L806.71,779.20 L807.23,780.15 L807.62,781.10 L807.86,782.05 L807.93,783.00 L807.82,783.95 L807.53,784.90 L807.10,785.85 L806.54,786.80 L805.89,787.75 L805.20,788.70" fill="none" stroke="#231F20" stroke-width="2.45" stroke-linecap="round"/>
<text font-family="Liberation Sans, sans-serif" font-size="10.2" font-weight="normal" text-anchor="middle" fill="#231F20" transform="translate(51.80,772.00) scale(0.91,1)">G</text>
<text font-family="Liberation Sans, sans-serif" font-size="10.2" font-weight="normal" text-anchor="middle" fill="#231F20" transform="translate(766.20,772.00) scale(0.91,1)">G</text>
<clipPath id="wc7"><polygon points="12.90,791.90 12.21,792.85 11.56,793.80 11.00,794.75 10.57,795.70 10.28,796.65 10.18,797.60 10.24,798.55 10.48,799.50 10.87,800.45 11.39,801.40 12.00,802.35 12.65,803.30 13.30,804.25 13.91,805.20 14.43,806.15 14.82,807.10 15.06,808.05 15.12,809.00 15.02,809.95 14.73,810.90 14.30,811.85 13.74,812.80 13.09,813.75 12.40,814.70 805.20,814.70 805.89,813.75 806.54,812.80 807.10,811.85 807.53,810.90 807.82,809.95 807.93,809.00 807.86,808.05 807.62,807.10 807.23,806.15 806.71,805.20 806.10,804.25 805.45,803.30 804.80,802.35 804.19,801.40 803.67,800.45 803.28,799.50 803.04,798.55 802.98,797.60 803.08,796.65 803.37,795.70 803.80,794.75 804.36,793.80 805.01,792.85 805.70,791.90"/></clipPath>
<g clip-path="url(#wc7)">
<rect x="5" y="799.40" width="808" height="8.2" fill="#231F20"/>
</g>
<path d="M12.90,791.90 L12.21,792.85 L11.56,793.80 L11.00,794.75 L10.57,795.70 L10.28,796.65 L10.18,797.60 L10.24,798.55 L10.48,799.50 L10.87,800.45 L11.39,801.40 L12.00,802.35 L12.65,803.30 L13.30,804.25 L13.91,805.20 L14.43,806.15 L14.82,807.10 L15.06,808.05 L15.12,809.00 L15.02,809.95 L14.73,810.90 L14.30,811.85 L13.74,812.80 L13.09,813.75 L12.40,814.70" fill="none" stroke="#231F20" stroke-width="2.45" stroke-linecap="round"/>
<path d="M805.70,791.90 L805.01,792.85 L804.36,793.80 L803.80,794.75 L803.37,795.70 L803.08,796.65 L802.98,797.60 L803.04,798.55 L803.28,799.50 L803.67,800.45 L804.19,801.40 L804.80,802.35 L805.45,803.30 L806.10,804.25 L806.71,805.20 L807.23,806.15 L807.62,807.10 L807.86,808.05 L807.93,809.00 L807.82,809.95 L807.53,810.90 L807.10,811.85 L806.54,812.80 L805.89,813.75 L805.20,814.70" fill="none" stroke="#231F20" stroke-width="2.45" stroke-linecap="round"/>
<text font-family="Liberation Sans, sans-serif" font-size="10.2" font-weight="normal" text-anchor="middle" fill="#231F20" transform="translate(51.80,798.00) scale(0.91,1)">B</text>
<text font-family="Liberation Sans, sans-serif" font-size="10.2" font-weight="normal" text-anchor="middle" fill="#231F20" transform="translate(766.20,798.00) scale(0.91,1)">B</text>
<clipPath id="wc8"><polygon points="12.90,817.90 12.21,818.85 11.56,819.80 11.00,820.75 10.57,821.70 10.28,822.65 10.18,823.60 10.24,824.55 10.48,825.50 10.87,826.45 11.39,827.40 12.00,828.35 12.65,829.30 13.30,830.25 13.91,831.20 14.43,832.15 14.82,833.10 15.06,834.05 15.12,835.00 15.02,835.95 14.73,836.90 14.30,837.85 13.74,838.80 13.09,839.75 12.40,840.70 805.20,840.70 805.89,839.75 806.54,838.80 807.10,837.85 807.53,836.90 807.82,835.95 807.93,835.00 807.86,834.05 807.62,833.10 807.23,832.15 806.71,831.20 806.10,830.25 805.45,829.30 804.80,828.35 804.19,827.40 803.67,826.45 803.28,825.50 803.04,824.55 802.98,823.60 803.08,822.65 803.37,821.70 803.80,820.75 804.36,819.80 805.01,818.85 805.70,817.90"/></clipPath>
<g clip-path="url(#wc8)">
<line x1="5" y1="825.90" x2="813" y2="825.90" stroke="#68686a" stroke-width="1.5"/>
<line x1="5" y1="833.20" x2="813" y2="833.20" stroke="#5c5c5e" stroke-width="1.5"/>
</g>
<path d="M12.90,817.90 L12.21,818.85 L11.56,819.80 L11.00,820.75 L10.57,821.70 L10.28,822.65 L10.18,823.60 L10.24,824.55 L10.48,825.50 L10.87,826.45 L11.39,827.40 L12.00,828.35 L12.65,829.30 L13.30,830.25 L13.91,831.20 L14.43,832.15 L14.82,833.10 L15.06,834.05 L15.12,835.00 L15.02,835.95 L14.73,836.90 L14.30,837.85 L13.74,838.80 L13.09,839.75 L12.40,840.70" fill="none" stroke="#231F20" stroke-width="2.45" stroke-linecap="round"/>
<path d="M805.70,817.90 L805.01,818.85 L804.36,819.80 L803.80,820.75 L803.37,821.70 L803.08,822.65 L802.98,823.60 L803.04,824.55 L803.28,825.50 L803.67,826.45 L804.19,827.40 L804.80,828.35 L805.45,829.30 L806.10,830.25 L806.71,831.20 L807.23,832.15 L807.62,833.10 L807.86,834.05 L807.93,835.00 L807.82,835.95 L807.53,836.90 L807.10,837.85 L806.54,838.80 L805.89,839.75 L805.20,840.70" fill="none" stroke="#231F20" stroke-width="2.45" stroke-linecap="round"/>
<text font-family="Liberation Sans, sans-serif" font-size="10.2" font-weight="normal" text-anchor="middle" fill="#231F20" transform="translate(51.80,824.00) scale(0.91,1)">W</text>
<text font-family="Liberation Sans, sans-serif" font-size="10.2" font-weight="normal" text-anchor="middle" fill="#231F20" transform="translate(766.20,824.00) scale(0.91,1)">W</text>
<clipPath id="wc10"><polygon points="12.90,869.90 12.21,870.85 11.56,871.80 11.00,872.75 10.57,873.70 10.28,874.65 10.18,875.60 10.24,876.55 10.48,877.50 10.87,878.45 11.39,879.40 12.00,880.35 12.65,881.30 13.30,882.25 13.91,883.20 14.43,884.15 14.82,885.10 15.06,886.05 15.12,887.00 15.02,887.95 14.73,888.90 14.30,889.85 13.74,890.80 13.09,891.75 12.40,892.70 805.20,892.70 805.89,891.75 806.54,890.80 807.10,889.85 807.53,888.90 807.82,887.95 807.93,887.00 807.86,886.05 807.62,885.10 807.23,884.15 806.71,883.20 806.10,882.25 805.45,881.30 804.80,880.35 804.19,879.40 803.67,878.45 803.28,877.50 803.04,876.55 802.98,875.60 803.08,874.65 803.37,873.70 803.80,872.75 804.36,871.80 805.01,870.85 805.70,869.90"/></clipPath>
<g clip-path="url(#wc10)">
<rect x="5" y="877.40" width="808" height="8.2" fill="#00A651"/>
</g>
<path d="M12.90,869.90 L12.21,870.85 L11.56,871.80 L11.00,872.75 L10.57,873.70 L10.28,874.65 L10.18,875.60 L10.24,876.55 L10.48,877.50 L10.87,878.45 L11.39,879.40 L12.00,880.35 L12.65,881.30 L13.30,882.25 L13.91,883.20 L14.43,884.15 L14.82,885.10 L15.06,886.05 L15.12,887.00 L15.02,887.95 L14.73,888.90 L14.30,889.85 L13.74,890.80 L13.09,891.75 L12.40,892.70" fill="none" stroke="#231F20" stroke-width="2.45" stroke-linecap="round"/>
<path d="M805.70,869.90 L805.01,870.85 L804.36,871.80 L803.80,872.75 L803.37,873.70 L803.08,874.65 L802.98,875.60 L803.04,876.55 L803.28,877.50 L803.67,878.45 L804.19,879.40 L804.80,880.35 L805.45,881.30 L806.10,882.25 L806.71,883.20 L807.23,884.15 L807.62,885.10 L807.86,886.05 L807.93,887.00 L807.82,887.95 L807.53,888.90 L807.10,889.85 L806.54,890.80 L805.89,891.75 L805.20,892.70" fill="none" stroke="#231F20" stroke-width="2.45" stroke-linecap="round"/>
<text font-family="Liberation Sans, sans-serif" font-size="10.2" font-weight="normal" text-anchor="middle" fill="#231F20" transform="translate(51.80,876.00) scale(0.91,1)">G</text>
<text font-family="Liberation Sans, sans-serif" font-size="10.2" font-weight="normal" text-anchor="middle" fill="#231F20" transform="translate(766.20,876.00) scale(0.91,1)">G</text>
<clipPath id="wc11"><polygon points="12.90,895.90 12.21,896.85 11.56,897.80 11.00,898.75 10.57,899.70 10.28,900.65 10.18,901.60 10.24,902.55 10.48,903.50 10.87,904.45 11.39,905.40 12.00,906.35 12.65,907.30 13.30,908.25 13.91,909.20 14.43,910.15 14.82,911.10 15.06,912.05 15.12,913.00 15.02,913.95 14.73,914.90 14.30,915.85 13.74,916.80 13.09,917.75 12.40,918.70 805.20,918.70 805.89,917.75 806.54,916.80 807.10,915.85 807.53,914.90 807.82,913.95 807.93,913.00 807.86,912.05 807.62,911.10 807.23,910.15 806.71,909.20 806.10,908.25 805.45,907.30 804.80,906.35 804.19,905.40 803.67,904.45 803.28,903.50 803.04,902.55 802.98,901.60 803.08,900.65 803.37,899.70 803.80,898.75 804.36,897.80 805.01,896.85 805.70,895.90"/></clipPath>
<g clip-path="url(#wc11)">
<rect x="5" y="903.40" width="808" height="8.2" fill="#00A651"/>
</g>
<path d="M12.90,895.90 L12.21,896.85 L11.56,897.80 L11.00,898.75 L10.57,899.70 L10.28,900.65 L10.18,901.60 L10.24,902.55 L10.48,903.50 L10.87,904.45 L11.39,905.40 L12.00,906.35 L12.65,907.30 L13.30,908.25 L13.91,909.20 L14.43,910.15 L14.82,911.10 L15.06,912.05 L15.12,913.00 L15.02,913.95 L14.73,914.90 L14.30,915.85 L13.74,916.80 L13.09,917.75 L12.40,918.70" fill="none" stroke="#231F20" stroke-width="2.45" stroke-linecap="round"/>
<path d="M805.70,895.90 L805.01,896.85 L804.36,897.80 L803.80,898.75 L803.37,899.70 L803.08,900.65 L802.98,901.60 L803.04,902.55 L803.28,903.50 L803.67,904.45 L804.19,905.40 L804.80,906.35 L805.45,907.30 L806.10,908.25 L806.71,909.20 L807.23,910.15 L807.62,911.10 L807.86,912.05 L807.93,913.00 L807.82,913.95 L807.53,914.90 L807.10,915.85 L806.54,916.80 L805.89,917.75 L805.20,918.70" fill="none" stroke="#231F20" stroke-width="2.45" stroke-linecap="round"/>
<text font-family="Liberation Sans, sans-serif" font-size="10.2" font-weight="normal" text-anchor="middle" fill="#231F20" transform="translate(51.80,902.00) scale(0.91,1)">G</text>
<text font-family="Liberation Sans, sans-serif" font-size="10.2" font-weight="normal" text-anchor="middle" fill="#231F20" transform="translate(766.20,902.00) scale(0.91,1)">G</text>
<clipPath id="wc12"><polygon points="12.90,921.90 12.21,922.85 11.56,923.80 11.00,924.75 10.57,925.70 10.28,926.65 10.18,927.60 10.24,928.55 10.48,929.50 10.87,930.45 11.39,931.40 12.00,932.35 12.65,933.30 13.30,934.25 13.91,935.20 14.43,936.15 14.82,937.10 15.06,938.05 15.12,939.00 15.02,939.95 14.73,940.90 14.30,941.85 13.74,942.80 13.09,943.75 12.40,944.70 805.20,944.70 805.89,943.75 806.54,942.80 807.10,941.85 807.53,940.90 807.82,939.95 807.93,939.00 807.86,938.05 807.62,937.10 807.23,936.15 806.71,935.20 806.10,934.25 805.45,933.30 804.80,932.35 804.19,931.40 803.67,930.45 803.28,929.50 803.04,928.55 802.98,927.60 803.08,926.65 803.37,925.70 803.80,924.75 804.36,923.80 805.01,922.85 805.70,921.90"/></clipPath>
<g clip-path="url(#wc12)">
<rect x="5" y="929.40" width="808" height="8.2" fill="#00A651"/>
</g>
<path d="M12.90,921.90 L12.21,922.85 L11.56,923.80 L11.00,924.75 L10.57,925.70 L10.28,926.65 L10.18,927.60 L10.24,928.55 L10.48,929.50 L10.87,930.45 L11.39,931.40 L12.00,932.35 L12.65,933.30 L13.30,934.25 L13.91,935.20 L14.43,936.15 L14.82,937.10 L15.06,938.05 L15.12,939.00 L15.02,939.95 L14.73,940.90 L14.30,941.85 L13.74,942.80 L13.09,943.75 L12.40,944.70" fill="none" stroke="#231F20" stroke-width="2.45" stroke-linecap="round"/>
<path d="M805.70,921.90 L805.01,922.85 L804.36,923.80 L803.80,924.75 L803.37,925.70 L803.08,926.65 L802.98,927.60 L803.04,928.55 L803.28,929.50 L803.67,930.45 L804.19,931.40 L804.80,932.35 L805.45,933.30 L806.10,934.25 L806.71,935.20 L807.23,936.15 L807.62,937.10 L807.86,938.05 L807.93,939.00 L807.82,939.95 L807.53,940.90 L807.10,941.85 L806.54,942.80 L805.89,943.75 L805.20,944.70" fill="none" stroke="#231F20" stroke-width="2.45" stroke-linecap="round"/>
<text font-family="Liberation Sans, sans-serif" font-size="10.2" font-weight="normal" text-anchor="middle" fill="#231F20" transform="translate(51.80,928.00) scale(0.91,1)">G</text>
<text font-family="Liberation Sans, sans-serif" font-size="10.2" font-weight="normal" text-anchor="middle" fill="#231F20" transform="translate(766.20,928.00) scale(0.91,1)">G</text>
<clipPath id="wc13"><polygon points="12.90,947.90 12.21,948.85 11.56,949.80 11.00,950.75 10.57,951.70 10.28,952.65 10.18,953.60 10.24,954.55 10.48,955.50 10.87,956.45 11.39,957.40 12.00,958.35 12.65,959.30 13.30,960.25 13.91,961.20 14.43,962.15 14.82,963.10 15.06,964.05 15.12,965.00 15.02,965.95 14.73,966.90 14.30,967.85 13.74,968.80 13.09,969.75 12.40,970.70 805.20,970.70 805.89,969.75 806.54,968.80 807.10,967.85 807.53,966.90 807.82,965.95 807.93,965.00 807.86,964.05 807.62,963.10 807.23,962.15 806.71,961.20 806.10,960.25 805.45,959.30 804.80,958.35 804.19,957.40 803.67,956.45 803.28,955.50 803.04,954.55 802.98,953.60 803.08,952.65 803.37,951.70 803.80,950.75 804.36,949.80 805.01,948.85 805.70,947.90"/></clipPath>
<g clip-path="url(#wc13)">
<line x1="5" y1="955.60" x2="813" y2="955.60" stroke="#3a3a3c" stroke-width="1.3"/>
<line x1="5" y1="963.10" x2="813" y2="963.10" stroke="#6a6a6c" stroke-width="1.5"/>
<line x1="5" y1="958.90" x2="813" y2="958.90" stroke="#231F20" stroke-width="2.1"/>
</g>
<path d="M12.90,947.90 L12.21,948.85 L11.56,949.80 L11.00,950.75 L10.57,951.70 L10.28,952.65 L10.18,953.60 L10.24,954.55 L10.48,955.50 L10.87,956.45 L11.39,957.40 L12.00,958.35 L12.65,959.30 L13.30,960.25 L13.91,961.20 L14.43,962.15 L14.82,963.10 L15.06,964.05 L15.12,965.00 L15.02,965.95 L14.73,966.90 L14.30,967.85 L13.74,968.80 L13.09,969.75 L12.40,970.70" fill="none" stroke="#231F20" stroke-width="2.45" stroke-linecap="round"/>
<path d="M805.70,947.90 L805.01,948.85 L804.36,949.80 L803.80,950.75 L803.37,951.70 L803.08,952.65 L802.98,953.60 L803.04,954.55 L803.28,955.50 L803.67,956.45 L804.19,957.40 L804.80,958.35 L805.45,959.30 L806.10,960.25 L806.71,961.20 L807.23,962.15 L807.62,963.10 L807.86,964.05 L807.93,965.00 L807.82,965.95 L807.53,966.90 L807.10,967.85 L806.54,968.80 L805.89,969.75 L805.20,970.70" fill="none" stroke="#231F20" stroke-width="2.45" stroke-linecap="round"/>
<text font-family="Liberation Sans, sans-serif" font-size="10.2" font-weight="normal" text-anchor="middle" fill="#231F20" transform="translate(51.80,954.00) scale(0.91,1)">W–B</text>
<text font-family="Liberation Sans, sans-serif" font-size="10.2" font-weight="normal" text-anchor="middle" fill="#231F20" transform="translate(766.20,954.00) scale(0.91,1)">W–B</text>
<clipPath id="wc14"><polygon points="12.90,973.90 12.21,974.85 11.56,975.80 11.00,976.75 10.57,977.70 10.28,978.65 10.18,979.60 10.24,980.55 10.48,981.50 10.87,982.45 11.39,983.40 12.00,984.35 12.65,985.30 13.30,986.25 13.91,987.20 14.43,988.15 14.82,989.10 15.06,990.05 15.12,991.00 15.02,991.95 14.73,992.90 14.30,993.85 13.74,994.80 13.09,995.75 12.40,996.70 805.20,996.70 805.89,995.75 806.54,994.80 807.10,993.85 807.53,992.90 807.82,991.95 807.93,991.00 807.86,990.05 807.62,989.10 807.23,988.15 806.71,987.20 806.10,986.25 805.45,985.30 804.80,984.35 804.19,983.40 803.67,982.45 803.28,981.50 803.04,980.55 802.98,979.60 803.08,978.65 803.37,977.70 803.80,976.75 804.36,975.80 805.01,974.85 805.70,973.90"/></clipPath>
<g clip-path="url(#wc14)">
<rect x="5" y="981.40" width="808" height="8.2" fill="#231F20"/>
</g>
<path d="M12.90,973.90 L12.21,974.85 L11.56,975.80 L11.00,976.75 L10.57,977.70 L10.28,978.65 L10.18,979.60 L10.24,980.55 L10.48,981.50 L10.87,982.45 L11.39,983.40 L12.00,984.35 L12.65,985.30 L13.30,986.25 L13.91,987.20 L14.43,988.15 L14.82,989.10 L15.06,990.05 L15.12,991.00 L15.02,991.95 L14.73,992.90 L14.30,993.85 L13.74,994.80 L13.09,995.75 L12.40,996.70" fill="none" stroke="#231F20" stroke-width="2.45" stroke-linecap="round"/>
<path d="M805.70,973.90 L805.01,974.85 L804.36,975.80 L803.80,976.75 L803.37,977.70 L803.08,978.65 L802.98,979.60 L803.04,980.55 L803.28,981.50 L803.67,982.45 L804.19,983.40 L804.80,984.35 L805.45,985.30 L806.10,986.25 L806.71,987.20 L807.23,988.15 L807.62,989.10 L807.86,990.05 L807.93,991.00 L807.82,991.95 L807.53,992.90 L807.10,993.85 L806.54,994.80 L805.89,995.75 L805.20,996.70" fill="none" stroke="#231F20" stroke-width="2.45" stroke-linecap="round"/>
<text font-family="Liberation Sans, sans-serif" font-size="10.2" font-weight="normal" text-anchor="middle" fill="#231F20" transform="translate(51.80,980.00) scale(0.91,1)">B</text>
<text font-family="Liberation Sans, sans-serif" font-size="10.2" font-weight="normal" text-anchor="middle" fill="#231F20" transform="translate(766.20,980.00) scale(0.91,1)">B</text>
</svg>
</body></html>
